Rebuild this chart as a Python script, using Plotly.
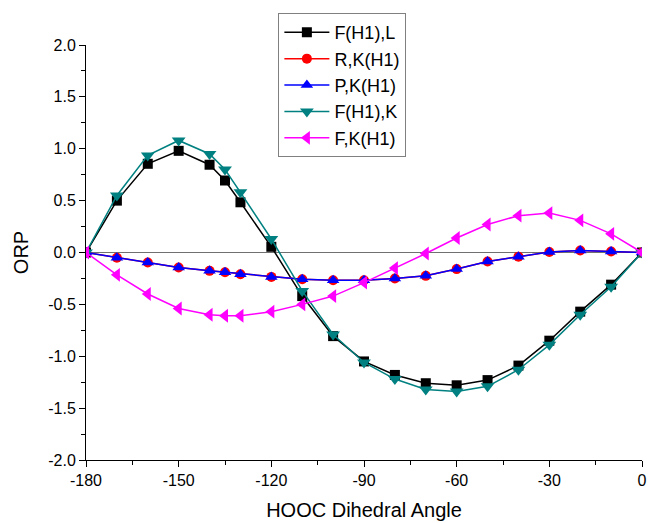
import plotly.graph_objects as go

angles = [-180, -170, -160, -150, -140, -135, -130, -120, -110, -100,
          -90, -80, -70, -60, -50, -40, -30, -20, -10, 0]

f_h1_l = [0.0, 0.50, 0.855, 0.98, 0.846, 0.694, 0.484, 0.055, -0.42, -0.806,
          -1.05, -1.18, -1.26, -1.28, -1.23, -1.09, -0.85, -0.57, -0.31, 0.0]
r_k_h1 = [0.0, -0.05, -0.097, -0.145, -0.177, -0.19, -0.21, -0.235, -0.258, -0.267,
          -0.267, -0.25, -0.225, -0.16, -0.087, -0.04, 0.005, 0.02, 0.01, 0.0]
p_k_h1 = [0.0, -0.05, -0.097, -0.145, -0.177, -0.19, -0.21, -0.235, -0.258, -0.267,
          -0.267, -0.25, -0.225, -0.16, -0.087, -0.04, 0.005, 0.02, 0.01, 0.0]
f_h1_k = [0.0, 0.55, 0.936, 1.08, 0.95, 0.80, 0.58, 0.13, -0.37, -0.79,
          -1.06, -1.22, -1.32, -1.34, -1.29, -1.13, -0.89, -0.60, -0.33, 0.0]
f_k_h1 = [0.0, -0.215, -0.40, -0.54, -0.60, -0.61, -0.61, -0.57, -0.50, -0.42,
          -0.29, -0.15, -0.01, 0.14, 0.27, 0.355, 0.38, 0.31, 0.18, 0.0]

x_ticks = [-180, -150, -120, -90, -60, -30, 0]
x_tick_text = ["-180", "-150", "-120", "-90", "-60", "-30", "0"]
y_ticks = [-2, -1.5, -1, -0.5, 0, 0.5, 1, 1.5, 2]
y_tick_text = ["-2.0", "-1.5", "-1.0", "-0.5", "0.0", "0.5", "1.0", "1.5", "2.0"]

series = [
    ("F(H1),L", f_h1_l, "black", "square", 10),
    ("R,K(H1)", r_k_h1, "red", "circle", 10),
    ("P,K(H1)", p_k_h1, "blue", "triangle-up", 11),
    ("F(H1),K", f_h1_k, "#008080", "triangle-down", 12),
    ("F,K(H1)", f_k_h1, "#ff00ff", "triangle-left", 12),
]

fig = go.Figure()
for name, vals, color, sym, size in series:
    fig.add_trace(go.Scatter(
        x=angles, y=vals, name=name, mode="lines+markers",
        line=dict(color=color, width=1.5),
        marker=dict(symbol=sym, size=size, color=color, line=dict(width=0)),
    ))

font_family = "Liberation Sans, Arial, sans-serif"
fig.update_layout(
    width=652, height=523,
    margin=dict(l=86, r=5, t=45, b=63),
    paper_bgcolor="white", plot_bgcolor="white",
    font=dict(family=font_family, color="black", size=16),
    showlegend=True,
    legend=dict(
        x=0.346, y=1.077, xanchor="left", yanchor="top",
        bordercolor="#808080", borderwidth=1, bgcolor="white",
        font=dict(size=18, family=font_family),
        tracegroupgap=0, itemwidth=45,
    ),
    xaxis=dict(
        range=[-180, 0], tickmode="array",
        tickvals=x_ticks, ticktext=x_tick_text,
        ticks="outside", ticklen=6, tickwidth=1, tickcolor="black",
        minor=dict(tickvals=[-165, -135, -105, -75, -45, -15], ticks="outside",
                   ticklen=4, tickcolor="black"),
        showline=True, linecolor="black", linewidth=1,
        showgrid=False, zeroline=False,
        title=dict(text="HOOC Dihedral Angle", font=dict(size=20), standoff=14),
        tickfont=dict(size=16),
    ),
    yaxis=dict(
        range=[-2, 2], tickmode="array",
        tickvals=y_ticks, ticktext=y_tick_text,
        ticks="outside", ticklen=6, tickwidth=1, tickcolor="black",
        minor=dict(tickvals=[-1.75, -1.25, -0.75, -0.25, 0.25, 0.75, 1.25, 1.75],
                   ticks="outside", ticklen=4, tickcolor="black"),
        showline=True, linecolor="black", linewidth=1,
        showgrid=False, zeroline=True, zerolinecolor="#707070", zerolinewidth=1,
        title=dict(text="ORP", font=dict(size=20), standoff=14),
        tickfont=dict(size=16),
    ),
)

fig.write_html(
    "out.html",
    config={"displayModeBar": False},
    post_script="document.body.style.margin='0';document.body.style.overflow='hidden';",
)
